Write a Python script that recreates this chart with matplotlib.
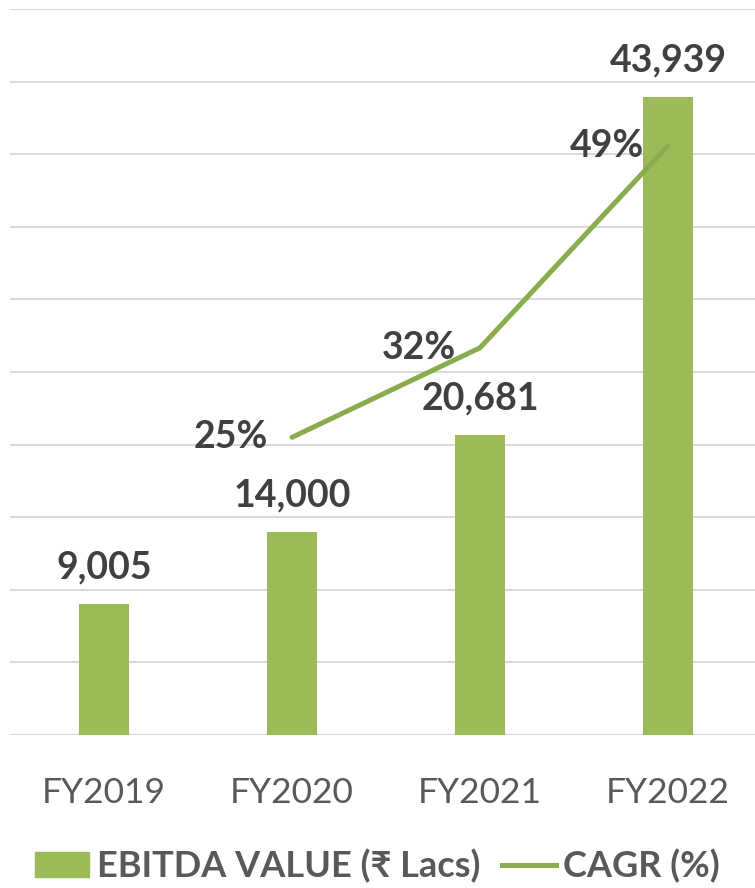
import matplotlib.pyplot as plt
from matplotlib.patches import Patch
from matplotlib.lines import Line2D

# Chart data
years = ["FY2019", "FY2020", "FY2021", "FY2022"]
ebitda = [9005, 14000, 20681, 43939]
cagr_years = ["FY2020", "FY2021", "FY2022"]
cagr = [24.6, 32.0, 48.7]

bar_color = "#9BBB59"
line_color = "#8AAC4D"
label_dark = "#404040"
label_gray = "#595959"
fonts = ["Lato", "DejaVu Sans"]

plt.rcParams["font.family"] = fonts

fig = plt.figure(figsize=(7.55, 8.88), dpi=100)
ax = fig.add_axes([10 / 755, 153 / 888, 752 / 755, 726 / 888])

x = list(range(len(years)))
bars = ax.bar(x, ebitda, width=0.27, color=bar_color, zorder=2)
ax.set_xlim(-0.5, 3.5)
ax.set_ylim(0, 50000)
ax.set_yticks(range(0, 50001, 5000))
ax.yaxis.grid(True, color="#D9D9D9", linewidth=1.5, zorder=0)
ax.set_axisbelow(True)
for s in ax.spines.values():
    s.set_visible(False)
ax.tick_params(axis="y", left=False, right=False, length=0, labelleft=False)
ax.tick_params(axis="x", bottom=False, length=0, pad=30)
ax.set_xticks(x)
ax.set_xticklabels(years, fontsize=25.5, color=label_gray)

# value labels above bars
for xi, v in zip(x, ebitda):
    ax.annotate(f"{v:,}", (xi, v), xytext=(0, 14), textcoords="offset points",
                ha="center", va="bottom", fontsize=27, fontweight="bold",
                color=label_dark)

# CAGR line on hidden secondary axis
ax2 = ax.twinx()
ax2.set_ylim(0, 60)
ax2.axis("off")
cx = [years.index(c) for c in cagr_years]
ax2.plot(cx, cagr, color=line_color, linewidth=3.6, solid_capstyle="round", zorder=3)
for xi, v in zip(cx, cagr):
    ax2.annotate(f"{v:.0f}%", (xi, v), xytext=(-17, 0), textcoords="offset points",
                 ha="right", va="center", fontsize=27, fontweight="bold",
                 color=label_dark, zorder=4)

handles = [Patch(color=bar_color), Line2D([0], [0], color=line_color, linewidth=3.6)]
leg = fig.legend(handles, ["EBITDA VALUE (₹ Lacs)", "CAGR (%)"],
                 loc="center", bbox_to_anchor=(0.5, 22 / 888), ncol=2, frameon=False,
                 prop={"family": fonts, "weight": "bold", "size": 26},
                 handlelength=1.5, handleheight=0.7, handletextpad=0.2,
                 columnspacing=0.6, borderaxespad=0)
for t in leg.get_texts():
    t.set_color(label_gray)

fig.savefig("out.png", dpi=100)
